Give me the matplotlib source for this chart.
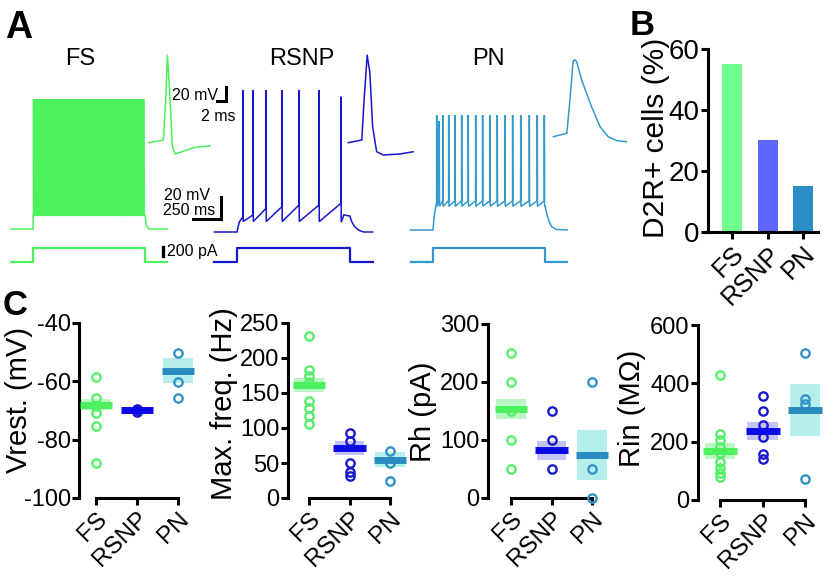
import numpy as np
import matplotlib
matplotlib.use('Agg')
import matplotlib.pyplot as plt
from matplotlib.patches import Rectangle

plt.rcParams['font.family'] = ['Liberation Sans', 'DejaVu Sans']
plt.rcParams['axes.unicode_minus'] = False

W, H = 826, 581
fig = plt.figure(figsize=(W / 100, H / 100), dpi=100)

# ------------------------------------------------------------------ data
cell_types = ['FS', 'RSNP', 'PN']
trace_colors = ['#4CF25C', '#1616CC', '#3399CC']
bar_colors = ['#6FFF8B', '#5F66FF', '#2A8EC6']
point_colors = ['#58EE6A', '#1A1ACC', '#3393C6']
mean_colors = ['#4CF05E', '#0A0AE6', '#2A8BC0']
band_colors = ['#BAF6C4', '#C4C4F4', '#B4EFEC']

# Panel B
d2r_pct = [55, 30, 15]

# Panel C (individual cells, group mean, SEM)
vrest_fs = [-58.4, -65.8, -68.5, -71.0, -75.3, -88.1]
vrest_rsnp = [-69.6, -70.0, -70.4]
vrest_pn = [-50.2, -60.1, -65.8]
vrest_mean = [-68.1, -70.0, -56.3]
vrest_sem = [1.9, 0.4, 4.4]

maxf_fs = [231, 183, 174, 166, 138, 128, 117, 106]
maxf_rsnp = [93, 82, 50, 37, 31]
maxf_pn = [67, 50, 25]
maxf_mean = [161, 71, 55]
maxf_sem = [10, 10, 11]

rh_fs = [250, 200, 150, 100, 50]
rh_rsnp = [150, 100, 50]
rh_pn = [200, 50, 0]
rh_mean = [153, 82, 74]
rh_sem = [17, 17, 43]

rin_fs = [429, 226, 206, 183, 160, 131, 109, 91, 78]
rin_rsnp = [357, 306, 257, 217, 158, 141]
rin_pn = [505, 345, 329, 71]
rin_mean = [169, 238, 309]
rin_sem = [28, 31, 90]

# Panel A: spike trains (ms) and levels (mV)
step_on_ms, step_off_ms = 0, 1000
step_amp_pA = [300, 300, 300]

fs_rest = -68
fs_spike_ms = [5, 15, 25, 35, 45, 55, 65, 75, 85, 95,
               105, 115, 125, 135, 145, 155, 165, 175, 185, 195,
               205, 215, 225, 235, 245, 255, 265, 275, 285, 295,
               305, 315, 325, 335, 345, 355, 365, 375, 385, 395,
               405, 415, 425, 435, 445, 455, 465, 475, 492, 502,
               512, 522, 532, 542, 552, 562, 572, 588, 598, 608,
               618, 628, 638, 648, 658, 668, 684, 694, 704, 714,
               724, 734, 744, 760, 770, 780, 790, 806, 816, 826,
               836, 852, 862, 872, 882, 892, 902, 918, 928, 938,
               948, 958, 968, 978, 988]
fs_peak_mv = 50
fs_pre_mv = -55
fs_ahp_mv = -56
fs_onset_t = [0, 1.5]
fs_onset_v = [-68, -55]
fs_offset_t = [1000, 1012, 1035]
fs_offset_v = [-55, -65, -68]

rsnp_rest = -70
rsnp_spike_ms = [53, 142, 257, 398, 549, 726, 920]
rsnp_peak_mv = [59, 59, 59, 59, 59, 59, 53]
rsnp_pre_mv = [-56, -54.5, -48.5, -47, -45.5, -45.5, -44]
rsnp_ahp_mv = -60.5
rsnp_onset_t = [0, 8, 20, 40]
rsnp_onset_v = [-70, -66, -61, -58]
rsnp_offset_t = [926, 945, 1000, 1012, 1040, 1080, 1120]
rsnp_offset_v = [-60.5, -54.5, -55.5, -60, -65, -68.5, -70]

pn_rest = -65
pn_spike_ms = [33, 56, 87, 140, 196, 256, 315, 381, 443, 509, 574, 643,
               711, 783, 860, 931, 994]
pn_peak_mv = [39.5, 34, 39.5, 39.5, 39.5, 39.5, 39.5, 39.5, 39.5, 39.5,
              39.5, 39.5, 39.5, 39.5, 39.5, 39.5, 39.5]
pn_pre_mv = -38.5
pn_ahp_mv = -43.5
pn_onset_t = [0, 8, 20, 31]
pn_onset_v = [-65, -55, -46, -41]
pn_offset_t = [1000, 1015, 1035, 1060, 1100]
pn_offset_v = [-43, -50, -57, -62, -64.5]

# single action potentials (ms, mV relative to pre-spike baseline)
fs_ap_t = [0, 3.2, 3.7, 4.1, 4.7, 5.2, 5.8, 7.3, 9.9, 13.6]
fs_ap_v = [0, 3.9, 60.4, 125, 60.4, -5.7, -16.1, -12.9, -7.1, -4.3]
rsnp_ap_t = [0, 3.0, 3.5, 4.2, 4.8, 5.4, 6.3, 7.8, 11.5, 14.4]
rsnp_ap_v = [0, 3.9, 60.4, 125, 99.6, 22.9, -12.9, -17.6, -16.1, -12.9]
pn_ap_t = [0, 3.0, 3.7, 4.4, 4.8, 5.2, 6.3, 8.5, 10.4, 12.2, 14.1, 16.2]
pn_ap_v = [0, 4.9, 52.4, 108.1, 110, 107.1, 81, 42.9, 14.3, 0, -5.7, -7.1]


# ------------------------------------------------------------------ helpers
def px_axes(x0, y0, x1, y1):
    return fig.add_axes([x0 / W, 1 - y1 / H, (x1 - x0) / W, (y1 - y0) / H])


def scaled_axes(box, x_org, y_org, px_per_x, px_per_y, y_ref=0.0):
    x0, y0, x1, y1 = box
    ax = px_axes(*box)
    ax.set_xlim((x0 - x_org) / px_per_x, (x1 - x_org) / px_per_x)
    ax.set_ylim(y_ref + (y_org - y1) / px_per_y, y_ref + (y_org - y0) / px_per_y)
    ax.axis('off')
    return ax


def spike_train(rest, onset_t, onset_v, spikes, peaks, pre, ahp,
                offset_t, offset_v, t_start=-200, t_end=1200):
    n = len(spikes)
    peaks = np.broadcast_to(peaks, (n,))
    pre = np.broadcast_to(pre, (n,))
    t = [t_start] + list(onset_t)
    v = [rest] + list(onset_v)
    for ts, pk, pr in zip(spikes, peaks, pre):
        t += [ts - 0.8, ts, ts + 2.0]
        v += [pr, pk, ahp]
    t += list(offset_t) + [t_end]
    v += list(offset_v) + [rest]
    return t, v


# ------------------------------------------------------------------ panel A
trains = [
    spike_train(fs_rest, fs_onset_t, fs_onset_v, fs_spike_ms, fs_peak_mv,
                fs_pre_mv, fs_ahp_mv, fs_offset_t, fs_offset_v),
    spike_train(rsnp_rest, rsnp_onset_t, rsnp_onset_v, rsnp_spike_ms,
                rsnp_peak_mv, rsnp_pre_mv, rsnp_ahp_mv, rsnp_offset_t,
                rsnp_offset_v),
    spike_train(pn_rest, pn_onset_t, pn_onset_v, pn_spike_ms, pn_peak_mv,
                pn_pre_mv, pn_ahp_mv, pn_offset_t, pn_offset_v),
]
rests = [fs_rest, rsnp_rest, pn_rest]
v_boxes = [(0, 80, 240, 240), (205, 80, 380, 240), (405, 100, 575, 240)]
v_org = [(33, 229), (237, 232), (433, 230)]
px_ms = [0.112, 0.113, 0.112]
i_boxes = [(0, 240, 240, 272), (205, 240, 380, 272), (405, 240, 575, 272)]
ap_boxes = [(140, 40, 245, 170), (340, 40, 420, 170), (545, 40, 635, 170)]
ap_org = [(149, 142.7), (348.3, 142.7), (553.3, 136.7)]
aps = [(fs_ap_t, fs_ap_v), (rsnp_ap_t, rsnp_ap_v), (pn_ap_t, pn_ap_v)]
title_x = [80, 302, 488]

v_axes, i_axes, ap_axes = [], [], []
for k in range(3):
    c = trace_colors[k]
    axv = scaled_axes(v_boxes[k], v_org[k][0], v_org[k][1], px_ms[k], 1.1, rests[k])
    axv.plot(trains[k][0], trains[k][1], color=c, lw=1.1, solid_joinstyle='miter')
    v_axes.append(axv)

    axi = scaled_axes(i_boxes[k], v_org[k][0], 262, px_ms[k], 0.045)
    a = step_amp_pA[k]
    axi.plot([-200, step_on_ms, step_on_ms, step_off_ms, step_off_ms, 1200],
             [0, 0, a, a, 0, 0], color=c, lw=1.6)
    i_axes.append(axi)

    axa = scaled_axes(ap_boxes[k], ap_org[k][0], ap_org[k][1], 4.5, 0.7)
    axa.plot(aps[k][0], aps[k][1], color=c, lw=1.1)
    ap_axes.append(axa)

    fig.text(title_x[k] / W, 1 - 65 / H, cell_types[k], fontsize=17,
             ha='center', va='baseline')

# scale bars
sb_font = 11.5
axv = v_axes[0]
t_c, v_c = 1679, -58.5
axv.plot([t_c - 250, t_c, t_c], [v_c, v_c, v_c + 20], color='black', lw=2.2,
         solid_joinstyle='miter', clip_on=False)
axv.text(1580, -37.5, '20 mV', fontsize=sb_font, ha='right', va='center')
axv.text(1625, -51.5, '250 ms', fontsize=sb_font, ha='right', va='center')

axa = ap_axes[0]
t_c, v_c = 17.2, 59.6
axa.plot([t_c - 2, t_c, t_c], [v_c, v_c, v_c + 20], color='black', lw=2.2,
         solid_joinstyle='miter', clip_on=False)
axa.text(15.3, 68, '20 mV', fontsize=sb_font, ha='right', va='center')
axa.text(19.3, 38, '2 ms', fontsize=sb_font, ha='right', va='center')

axi = i_axes[0]
axi.plot([1161, 1161], [133, 333], color='black', lw=2.4, clip_on=False)
axi.text(1200, 225, '200 pA', fontsize=sb_font, ha='left', va='center')

# panel letters
fig.text(5 / W, 1 - 38 / H, 'A', fontsize=27, fontweight='bold', va='baseline')
fig.text(630 / W, 1 - 35 / H, 'B', fontsize=25, fontweight='bold', va='baseline')
fig.text(3 / W, 1 - 315 / H, 'C', fontsize=25, fontweight='bold', va='baseline')

# ------------------------------------------------------------------ styling
SPINE_LW = 2.2


def style_axes(ax, ytick_size, xtick_size):
    for s in ('top', 'right'):
        ax.spines[s].set_visible(False)
    for s in ('left', 'bottom'):
        ax.spines[s].set_linewidth(SPINE_LW)
    ax.tick_params(axis='both', direction='out', length=5, width=SPINE_LW,
                   colors='black')
    ax.tick_params(axis='y', labelsize=ytick_size, pad=1)
    ax.tick_params(axis='x', labelsize=xtick_size, pad=2)
    ax.set_xticks(range(len(cell_types)))
    ax.set_xticklabels(cell_types, rotation=45, ha='right',
                       rotation_mode='anchor')
    ax.patch.set_alpha(0)


# ------------------------------------------------------------------ panel B
axB = px_axes(708, 49, 818, 232)
axB.bar(range(3), d2r_pct, width=0.56, color=bar_colors)
axB.set_xlim(-0.68, 2.42)
axB.set_ylim(0, 60)
axB.set_yticks([0, 20, 40, 60])
style_axes(axB, 20, 18.5)
fig.text(656 / W, 1 - 138 / H, 'D2R+ cells (%)', fontsize=21.5, rotation=90,
         ha='center', va='center')

# ------------------------------------------------------------------ panel C
c_panels = [
    dict(vals=[vrest_fs, vrest_rsnp, vrest_pn], mean=vrest_mean, sem=vrest_sem,
         ylim=(-100, -40), yticks=[-100, -80, -60, -40], label='Vrest. (mV)',
         spine_x=79, top=323, bot=498, first_x=96, step=41, label_xy=(19, 400),
         filled=[False, True, False]),
    dict(vals=[maxf_fs, maxf_rsnp, maxf_pn], mean=maxf_mean, sem=maxf_sem,
         ylim=(0, 250), yticks=[0, 50, 100, 150, 200, 250],
         label='Max. freq. (Hz)', spine_x=288, top=323, bot=498, first_x=309,
         step=40.5, label_xy=(224, 404), filled=[False, False, False]),
    dict(vals=[rh_fs, rh_rsnp, rh_pn], mean=rh_mean, sem=rh_sem,
         ylim=(0, 300), yticks=[0, 100, 200, 300], label='Rh (pA)',
         spine_x=488, top=324, bot=498, first_x=511, step=40.5,
         label_xy=(423, 412), filled=[False, False, False]),
    dict(vals=[rin_fs, rin_rsnp, rin_pn], mean=rin_mean, sem=rin_sem,
         ylim=(0, 600), yticks=[0, 200, 400, 600], label='Rin (MΩ)',
         spine_x=698, top=325, bot=500, first_x=720, step=42.5,
         label_xy=(632, 408), filled=[False, False, False]),
]

for p in c_panels:
    left = -(p['first_x'] - p['spine_x']) / p['step']
    right = 2.45
    x1 = p['spine_x'] + (right - left) * p['step']
    ax = px_axes(p['spine_x'], p['top'], x1, p['bot'])
    ax.set_xlim(left, right)
    ax.set_ylim(*p['ylim'])
    ax.set_yticks(p['yticks'])
    style_axes(ax, 17, 17.5)
    ax.spines['bottom'].set_bounds(0, 2)
    for k in range(3):
        m, s = p['mean'][k], p['sem'][k]
        ax.add_patch(Rectangle((k - 0.36, m - s), 0.72, 2 * s,
                               facecolor=band_colors[k], edgecolor='none',
                               zorder=1))
        vals = p['vals'][k]
        ax.plot([k] * len(vals), vals, linestyle='none', marker='o',
                markersize=6, markeredgewidth=1.7,
                markeredgecolor=point_colors[k],
                markerfacecolor=point_colors[k] if p['filled'][k] else 'none',
                zorder=3, clip_on=False)
        ax.hlines(m, k - 0.4, k + 0.4, colors=mean_colors[k], lw=5, zorder=4)
    fig.text(p['label_xy'][0] / W, 1 - p['label_xy'][1] / H, p['label'],
             fontsize=21, rotation=90, ha='center', va='center')

fig.savefig('out.png', dpi=100)
